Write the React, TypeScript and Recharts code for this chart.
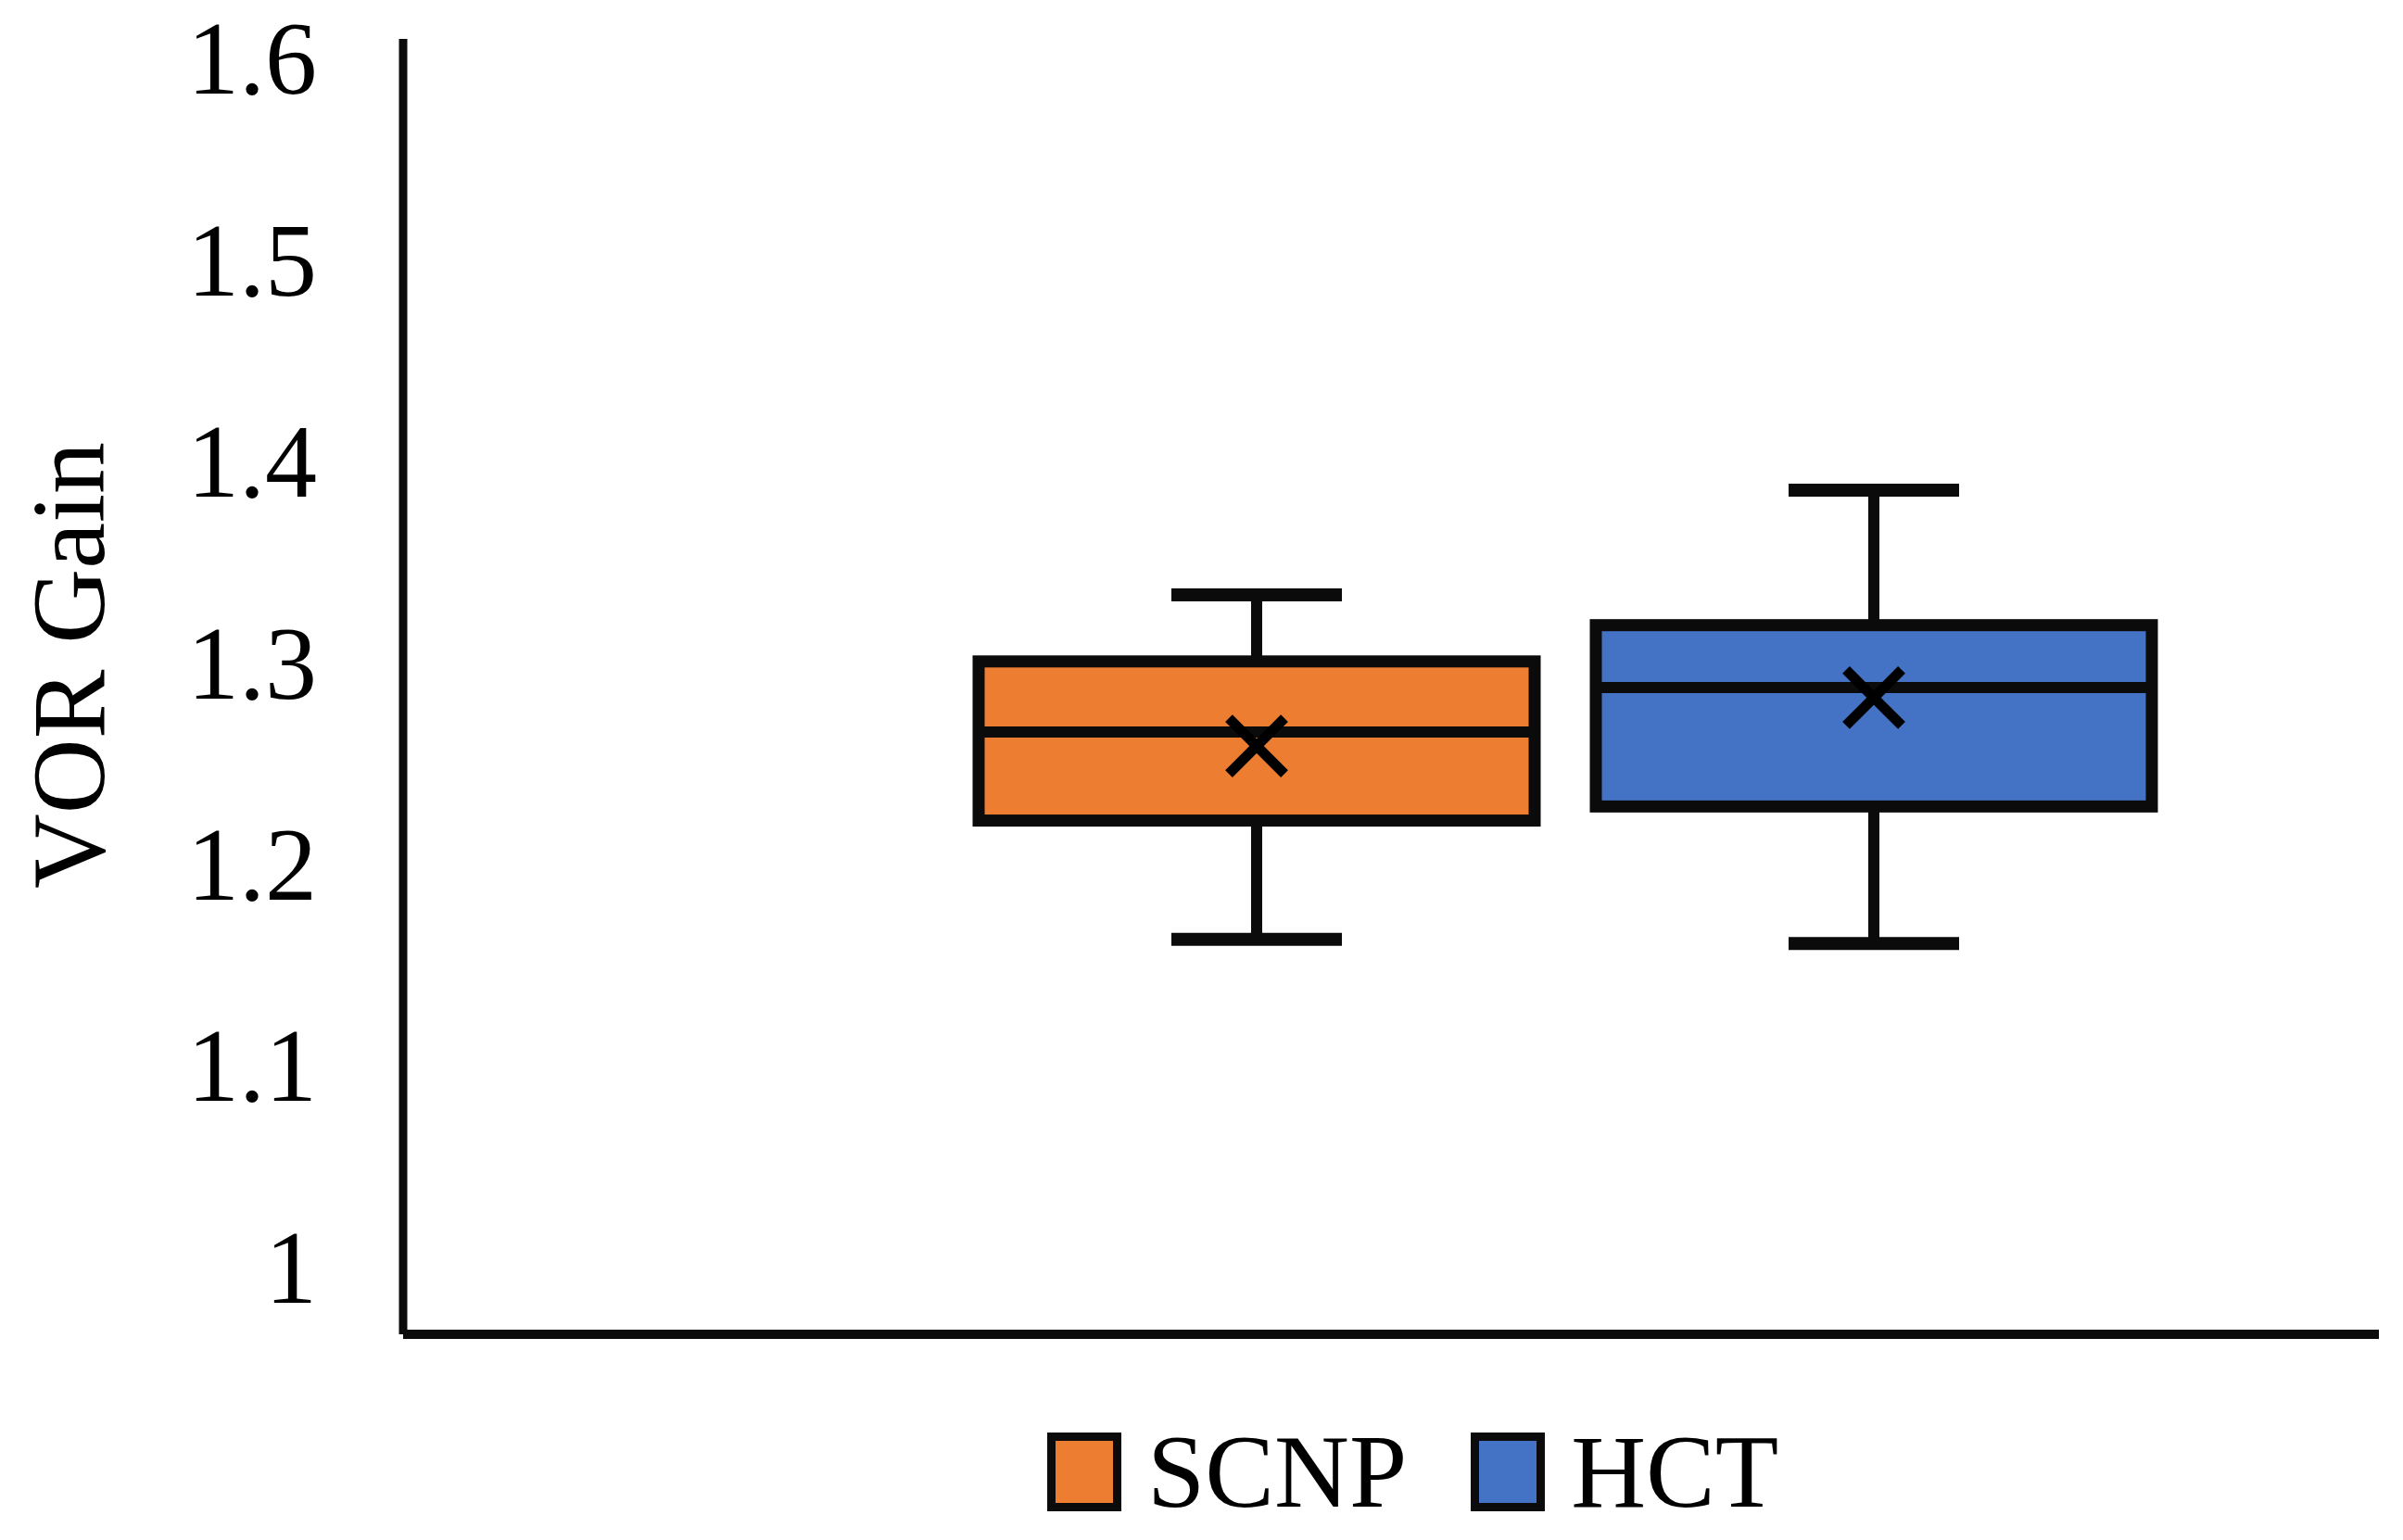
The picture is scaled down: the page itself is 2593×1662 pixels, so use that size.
import React from 'react';
import { BarChart, Bar, XAxis, YAxis, Legend, Label } from 'recharts';

// ---- data ----
const groups = ['SCNP', 'HCT'];
const mins = [1.162, 1.16];
const q1s = [1.221, 1.228];
const medians = [1.265, 1.287];
const means = [1.258, 1.282];
const q3s = [1.3, 1.318];
const maxs = [1.333, 1.385];
const yTicks = [1, 1.1, 1.2, 1.3, 1.4, 1.5, 1.6];
const yDomain: [number, number] = [0.966, 1.609];
const yLabel = 'VOR Gain';

// ---- style ----
const COLORS = ['#ED7D31', '#4472C4'];
const FONT = '"Liberation Serif", "Times New Roman", serif';
const INK = '#0b0b0b';

const row: any = { category: yLabel };
groups.forEach((g, i) => {
  row[g] = [q1s[i], q3s[i]];
});
const data = [row];

function makeBoxShape(i: number) {
  return (props: any) => {
    const { x, y, width, height, fill } = props;
    if (![x, y, width, height].every((v) => Number.isFinite(v))) return <g />;
    const top = Math.min(y, y + height);
    const h = Math.abs(height);
    const lo = q1s[i];
    const hi = q3s[i];
    const ppu = h / (hi - lo);
    const yOf = (v: number) => top + (hi - v) * ppu;
    const cx = x + width / 2;
    const capHalf = 92;
    const xs = 30;
    const yMax = yOf(maxs[i]);
    const yMin = yOf(mins[i]);
    const yMed = yOf(medians[i]);
    const yMean = yOf(means[i]);
    return (
      <g>
        <line x1={cx} x2={cx} y1={top} y2={yMax} stroke={INK} strokeWidth={12} />
        <line x1={cx} x2={cx} y1={top + h} y2={yMin} stroke={INK} strokeWidth={12} />
        <line x1={cx - capHalf} x2={cx + capHalf} y1={yMax} y2={yMax} stroke={INK} strokeWidth={14} />
        <line x1={cx - capHalf} x2={cx + capHalf} y1={yMin} y2={yMin} stroke={INK} strokeWidth={14} />
        <rect x={x} y={top} width={width} height={h} fill={fill} stroke={INK} strokeWidth={13} />
        <line x1={x} x2={x + width} y1={yMed} y2={yMed} stroke={INK} strokeWidth={12} />
        <line x1={cx - xs} y1={yMean - xs} x2={cx + xs} y2={yMean + xs} stroke="#000" strokeWidth={11} />
        <line x1={cx - xs} y1={yMean + xs} x2={cx + xs} y2={yMean - xs} stroke="#000" strokeWidth={11} />
      </g>
    );
  };
}

const renderLegend = (props: any) => {
  const payload: any[] = [...(props.payload || [])].sort(
    (a, b) => groups.indexOf(a.value) - groups.indexOf(b.value)
  );
  return (
    <div
      style={{
        display: 'flex',
        alignItems: 'center',
        height: 100,
        fontFamily: FONT,
        fontSize: 112,
        color: '#000',
        whiteSpace: 'nowrap',
        margin: 0,
        padding: 0,
      }}
    >
      {payload.map((p, idx) => (
        <div
          key={idx}
          style={{ display: 'flex', alignItems: 'center', marginRight: idx === payload.length - 1 ? 0 : 69 }}
        >
          <span
            style={{
              display: 'inline-block',
              width: 80,
              height: 85,
              boxSizing: 'border-box',
              border: `9px solid ${INK}`,
              background: p.color,
            }}
          />
          <span style={{ marginLeft: 28, lineHeight: 'normal' }}>{p.value}</span>
        </div>
      ))}
    </div>
  );
};

const renderYLabel = (props: any) => {
  const vb = props.viewBox || { x: 0, y: 42, width: 435, height: 1398 };
  const x = vb.x + 75;
  const y = vb.y + vb.height / 2 - 23;
  return (
    <text
      x={x}
      y={y}
      dy="0.331em"
      transform={`rotate(-90, ${x}, ${y})`}
      textAnchor="middle"
      fontFamily={FONT}
      fontSize={112}
      fill="#000"
    >
      {yLabel}
    </text>
  );
};

export default function App() {
  return (
    <div style={{ position: 'absolute', left: 0, top: 0, background: '#fff' }}>
      <BarChart
        width={2593}
        height={1662}
        data={data}
        margin={{ top: 42, right: 26, left: 0, bottom: 121 }}
        barSize={600}
        barGap={66}
      >
        <XAxis
          dataKey="category"
          tick={false}
          tickLine={false}
          axisLine={{ stroke: INK, strokeWidth: 10 }}
          height={1}
          padding={{ left: 375, right: 0 }}
        />
        <YAxis
          type="number"
          domain={yDomain}
          allowDataOverflow
          ticks={yTicks}
          interval={0}
          width={435}
          tickSize={0}
          tickMargin={93}
          tickLine={false}
          axisLine={{ stroke: INK, strokeWidth: 9 }}
          tick={{ fill: '#000', fontSize: 112, fontFamily: FONT }}
        >
          <Label content={renderYLabel} />
        </YAxis>
        {groups.map((g, i) => (
          <Bar
            key={g}
            dataKey={g}
            name={g}
            fill={COLORS[i]}
            isAnimationActive={false}
            shape={makeBoxShape(i)}
          />
        ))}
        <Legend
          verticalAlign="bottom"
          content={renderLegend}
          wrapperStyle={{ position: 'absolute', top: 1538, left: 1130, bottom: 'auto', width: 'auto', height: 100 }}
        />
      </BarChart>
    </div>
  );
}
